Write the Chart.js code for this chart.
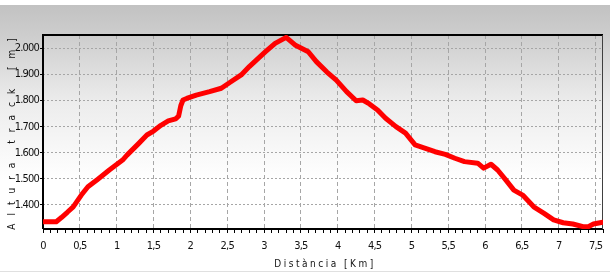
<!DOCTYPE html>
<html>
<head>
<meta charset="utf-8">
<script src="https://cdn.jsdelivr.net/npm/chart.js@4"></script>
<style>
  html, body { margin: 0; padding: 0; background: #fff; }
  #wrap { width: 610px; height: 273px; }
</style>
</head>
<body>
<div id="wrap"><canvas id="perfil" width="610" height="273"></canvas></div>
<script>
// perfil d'altura del track
const distanciaKm = [0, 0.10, 0.18, 0.25, 0.33, 0.41, 0.52, 0.61, 0.74, 0.90, 1.08, 1.14, 1.30, 1.41, 1.50, 1.60, 1.70, 1.80, 1.84, 1.87, 1.90, 1.95, 2.08, 2.26, 2.42, 2.55, 2.69, 2.80, 3.02, 3.15, 3.30, 3.42, 3.60, 3.71, 3.85, 3.98, 4.12, 4.25, 4.34, 4.43, 4.54, 4.65, 4.79, 4.92, 5.05, 5.19, 5.32, 5.46, 5.59, 5.72, 5.90, 5.98, 6.08, 6.17, 6.28, 6.39, 6.51, 6.66, 6.80, 6.93, 7.06, 7.19, 7.33, 7.40, 7.47, 7.56, 7.60];
const alturaM = [1336, 1336, 1336, 1352, 1372, 1393, 1438, 1470, 1498, 1534, 1572, 1591, 1636, 1668, 1683, 1705, 1722, 1730, 1740, 1780, 1802, 1808, 1821, 1834, 1847, 1872, 1898, 1930, 1987, 2019, 2042, 2013, 1987, 1949, 1910, 1878, 1834, 1799, 1802, 1787, 1764, 1732, 1700, 1675, 1630, 1617, 1604, 1594, 1579, 1566, 1560, 1541, 1556, 1534, 1496, 1457, 1438, 1393, 1368, 1343, 1332, 1327, 1317, 1317, 1327, 1332, 1334];

const xTickLabels = ['0', '0,5', '1', '1,5', '2', '2,5', '3', '3,5', '4', '4,5', '5', '5,5', '6', '6,5', '7', '7,5'];
const yTickLabels = ['1.400', '1.500', '1.600', '1.700', '1.800', '1.900', '2.000'];

const tituloX = 'Distància [Km]';
const tituloY = 'Altura track [m]';

const fuente = "'Liberation Sans Narrow', 'DejaVu Sans Condensed', 'Liberation Sans', sans-serif";

function esMayor(v) {
    const k = v * 2;
    return Math.abs(k - Math.round(k)) < 1e-6;
}

const fondo = {
    id: 'fondo',
    beforeDraw(chart) {
        const ctx = chart.ctx;
        const w = chart.width, h = chart.height;
        ctx.save();
        ctx.fillStyle = '#ffffff';
        ctx.fillRect(0, 0, w, h);
        const g = ctx.createLinearGradient(0, 5, 0, 180);
        g.addColorStop(0, '#c2c2c2');
        g.addColorStop(0.17, '#cdcdcd');
        g.addColorStop(0.55, '#ececec');
        g.addColorStop(1, '#ffffff');
        ctx.fillStyle = g;
        ctx.fillRect(0, 5, w, 175);
        ctx.fillStyle = '#e0e0e0';
        ctx.fillRect(0, h - 2, w, 1);
        ctx.restore();
        // etiquetes dels eixos més estretes
        ctx.letterSpacing = '-0.8px';
    }
};

const marco = {
    id: 'marco',
    beforeDatasetsDraw(chart) {
        const ctx = chart.ctx;
        const a = chart.chartArea;
        ctx.save();
        ctx.strokeStyle = '#000';
        ctx.lineWidth = 2;
        ctx.beginPath();
        ctx.moveTo(a.left, a.bottom);
        ctx.lineTo(a.left, a.top);
        ctx.lineTo(a.right, a.top);
        ctx.moveTo(a.left, a.bottom);
        ctx.lineTo(a.right, a.bottom);
        ctx.stroke();
        ctx.strokeStyle = '#404040';
        ctx.lineWidth = 1;
        ctx.beginPath();
        ctx.moveTo(a.right - 0.5, a.top);
        ctx.lineTo(a.right - 0.5, a.bottom);
        ctx.stroke();
        ctx.restore();
    }
};

const titulos = {
    id: 'titulos',
    afterDraw(chart) {
        const ctx = chart.ctx;
        ctx.save();
        ctx.fillStyle = '#111';
        ctx.font = '10px ' + fuente;
        ctx.textAlign = 'center';
        ctx.textBaseline = 'middle';
        ctx.letterSpacing = '2.5px';
        ctx.fillText(tituloX, 325, 264);
        ctx.translate(12, 134);
        ctx.rotate(-Math.PI / 2);
        ctx.letterSpacing = '8px';
        ctx.fillText(tituloY, 4, 0);
        ctx.restore();
        ctx.letterSpacing = '0px';
    }
};

new Chart(document.getElementById('perfil'), {
    type: 'line',
    data: {
        datasets: [{
            data: distanciaKm.map((d, i) => ({ x: d, y: alturaM[i] })),
            borderColor: '#ff0000',
            borderWidth: 5,
            borderJoinStyle: 'round',
            borderCapStyle: 'round',
            pointRadius: 0,
            tension: 0,
            fill: false
        }]
    },
    options: {
        responsive: false,
        animation: false,
        layout: { padding: { top: 35, right: 2, left: 0, bottom: 0 } },
        plugins: {
            legend: { display: false },
            tooltip: { enabled: false }
        },
        scales: {
            x: {
                type: 'linear',
                min: 0,
                max: 7.6,
                afterFit: s => { s.height = 44; },
                border: { display: false, dash: [4, 3] },
                grid: {
                    color: c => (c.tick && esMayor(c.tick.value) ? '#a6a6a6' : 'rgba(0,0,0,0)'),
                    tickColor: '#000',
                    tickLength: 4,
                    lineWidth: 1
                },
                ticks: {
                    stepSize: 0.1,
                    autoSkip: false,
                    maxRotation: 0,
                    padding: 7,
                    color: '#111',
                    font: { family: fuente, size: 11 },
                    callback: v => (esMayor(v) ? (xTickLabels[Math.round(v * 2)] ?? '') : '')
                }
            },
            y: {
                min: 1308,
                max: 2051,
                afterFit: s => { s.width = 43; },
                border: { display: false, dash: [2, 2] },
                grid: {
                    color: '#a6a6a6',
                    tickColor: '#000',
                    tickLength: 3,
                    lineWidth: 1
                },
                ticks: {
                    stepSize: 100,
                    includeBounds: false,
                    padding: 1,
                    color: '#111',
                    font: { family: fuente, size: 11 },
                    callback: v => yTickLabels[Math.round((v - 1400) / 100)] ?? ''
                }
            }
        }
    },
    plugins: [fondo, marco, titulos]
});
</script>
</body>
</html>
